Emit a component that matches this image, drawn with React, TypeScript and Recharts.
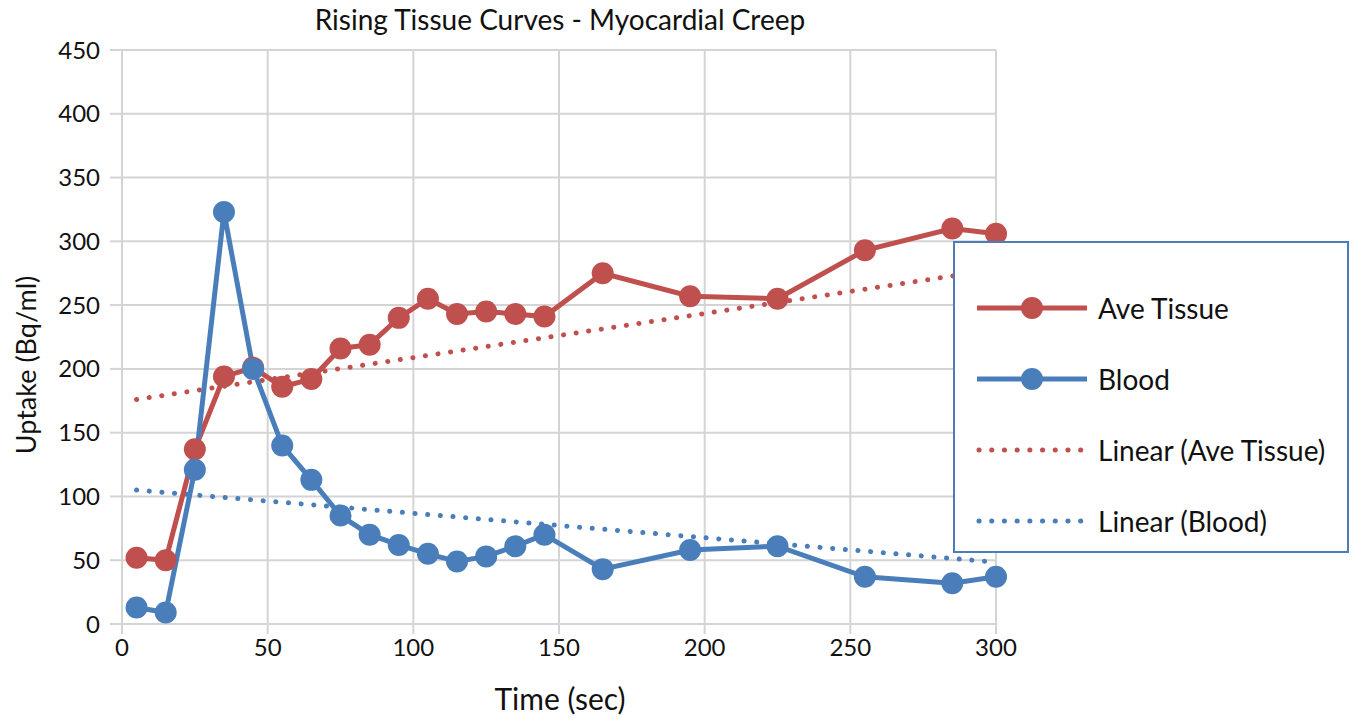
import React from 'react';
import { LineChart, Line, XAxis, YAxis, CartesianGrid } from 'recharts';

const RED = '#c0504d';
const BLUE = '#4a7ebb';
const GRID = '#d4d4d4';
const FONT = 'Lato, "Open Sans", sans-serif';

// sample times (sec)
const times = [5, 15, 25, 35, 45, 55, 65, 75, 85, 95, 105, 115, 125, 135, 145, 165, 195, 225, 255, 285, 300];
const aveTissue = [52, 50, 137, 194, 201, 186, 192, 216, 219, 240, 255, 243, 245, 243, 241, 275, 257, 255, 293, 310, 306];
const blood = [13, 9, 121, 323, 200, 140, 113, 85, 70, 62, 55, 49, 53, 61, 70, 43, 58, 61, 37, 32, 37];

// linear trendline end points
const trendTimes = [5, 300];
const tissueTrend = [176, 278];
const bloodTrend = [105, 48.5];

const xTicks = [0, 50, 100, 150, 200, 250, 300];
const yTicks = [0, 50, 100, 150, 200, 250, 300, 350, 400, 450];

const tissueData = times.map((t, i) => ({ t, v: aveTissue[i] }));
const bloodData = times.map((t, i) => ({ t, v: blood[i] }));
const tissueTrendData = trendTimes.map((t, i) => ({ t, v: tissueTrend[i] }));
const bloodTrendData = trendTimes.map((t, i) => ({ t, v: bloodTrend[i] }));

const legendItems = [
    { name: 'Ave Tissue', color: RED, dotted: false },
    { name: 'Blood', color: BLUE, dotted: false },
    { name: 'Linear (Ave Tissue)', color: RED, dotted: true },
    { name: 'Linear (Blood)', color: BLUE, dotted: true },
];

function LegendBox() {
    return (
        <div
            style={{
                position: 'absolute',
                left: 945,
                top: 233,
                width: 396,
                height: 312,
                border: `2px solid ${BLUE}`,
                background: '#fff',
                boxSizing: 'border-box',
                paddingTop: 29,
                paddingLeft: 20,
                fontFamily: FONT,
                fontSize: 28,
                color: '#111',
            }}
        >
            {legendItems.map((item) => (
                <div key={item.name} style={{ display: 'flex', alignItems: 'center', height: 71 }}>
                    <svg width={114} height={30} style={{ marginRight: 9 }}>
                        {item.dotted ? (
                            <line x1={4} y1={15} x2={110} y2={15} stroke={item.color} strokeWidth={5}
                                strokeDasharray="0.1 12.6" strokeLinecap="round" />
                        ) : (
                            <>
                                <line x1={2} y1={15} x2={112} y2={15} stroke={item.color} strokeWidth={5} />
                                <circle cx={57} cy={15} r={11} fill={item.color} />
                            </>
                        )}
                    </svg>
                    <span>{item.name}</span>
                </div>
            ))}
        </div>
    );
}

const tickStyle = { fontFamily: FONT, fontSize: 24, fill: '#111' };

export default function App() {
    return (
        <div style={{ position: 'relative', width: 1352, height: 711, background: '#fff' }}>
            <LineChart width={1352} height={711} margin={{ top: 42, right: 364, bottom: 35, left: 50 }}>
                <CartesianGrid stroke={GRID} strokeWidth={2} />
                <XAxis
                    type="number"
                    dataKey="t"
                    domain={[0, 300]}
                    ticks={xTicks}
                    height={60}
                    stroke={GRID}
                    strokeWidth={2}
                    tickSize={10}
                    tickMargin={5}
                    tick={tickStyle}
                    allowDuplicatedCategory={false}
                />
                <YAxis
                    type="number"
                    dataKey="v"
                    domain={[0, 450]}
                    ticks={yTicks}
                    width={64}
                    stroke={GRID}
                    strokeWidth={2}
                    tickSize={12}
                    tickMargin={10}
                    tick={tickStyle}
                />
                <Line data={tissueTrendData} dataKey="v" name="Linear (Ave Tissue)" stroke={RED} strokeWidth={5}
                    strokeDasharray="0.1 12.6" strokeLinecap="round" dot={false} isAnimationActive={false} />
                <Line data={bloodTrendData} dataKey="v" name="Linear (Blood)" stroke={BLUE} strokeWidth={5}
                    strokeDasharray="0.1 12.6" strokeLinecap="round" dot={false} isAnimationActive={false} />
                <Line data={tissueData} dataKey="v" name="Ave Tissue" stroke={RED} strokeWidth={5}
                    dot={{ r: 11, fill: RED, stroke: RED, strokeWidth: 0 }} isAnimationActive={false} />
                <Line data={bloodData} dataKey="v" name="Blood" stroke={BLUE} strokeWidth={5}
                    dot={{ r: 11, fill: BLUE, stroke: BLUE, strokeWidth: 0 }} isAnimationActive={false} />
            </LineChart>
            <div style={{ position: 'absolute', left: 0, width: 1104, top: -6, textAlign: 'center', fontFamily: FONT, fontSize: 28, color: '#111' }}>
                Rising Tissue Curves - Myocardial Creep
            </div>
            <div style={{ position: 'absolute', left: 0, width: 1104, top: 672, textAlign: 'center', fontFamily: FONT, fontSize: 30, color: '#111' }}>
                Time (sec)
            </div>
            <div
                style={{
                    position: 'absolute', left: 17, top: 357, width: 0, height: 0,
                    fontFamily: FONT, fontSize: 27, color: '#111',
                }}
            >
                <div style={{ position: 'absolute', transform: 'translate(-50%, -50%) rotate(-90deg)', whiteSpace: 'nowrap' }}>
                    Uptake (Bq/ml)
                </div>
            </div>
            <LegendBox />
        </div>
    );
}
